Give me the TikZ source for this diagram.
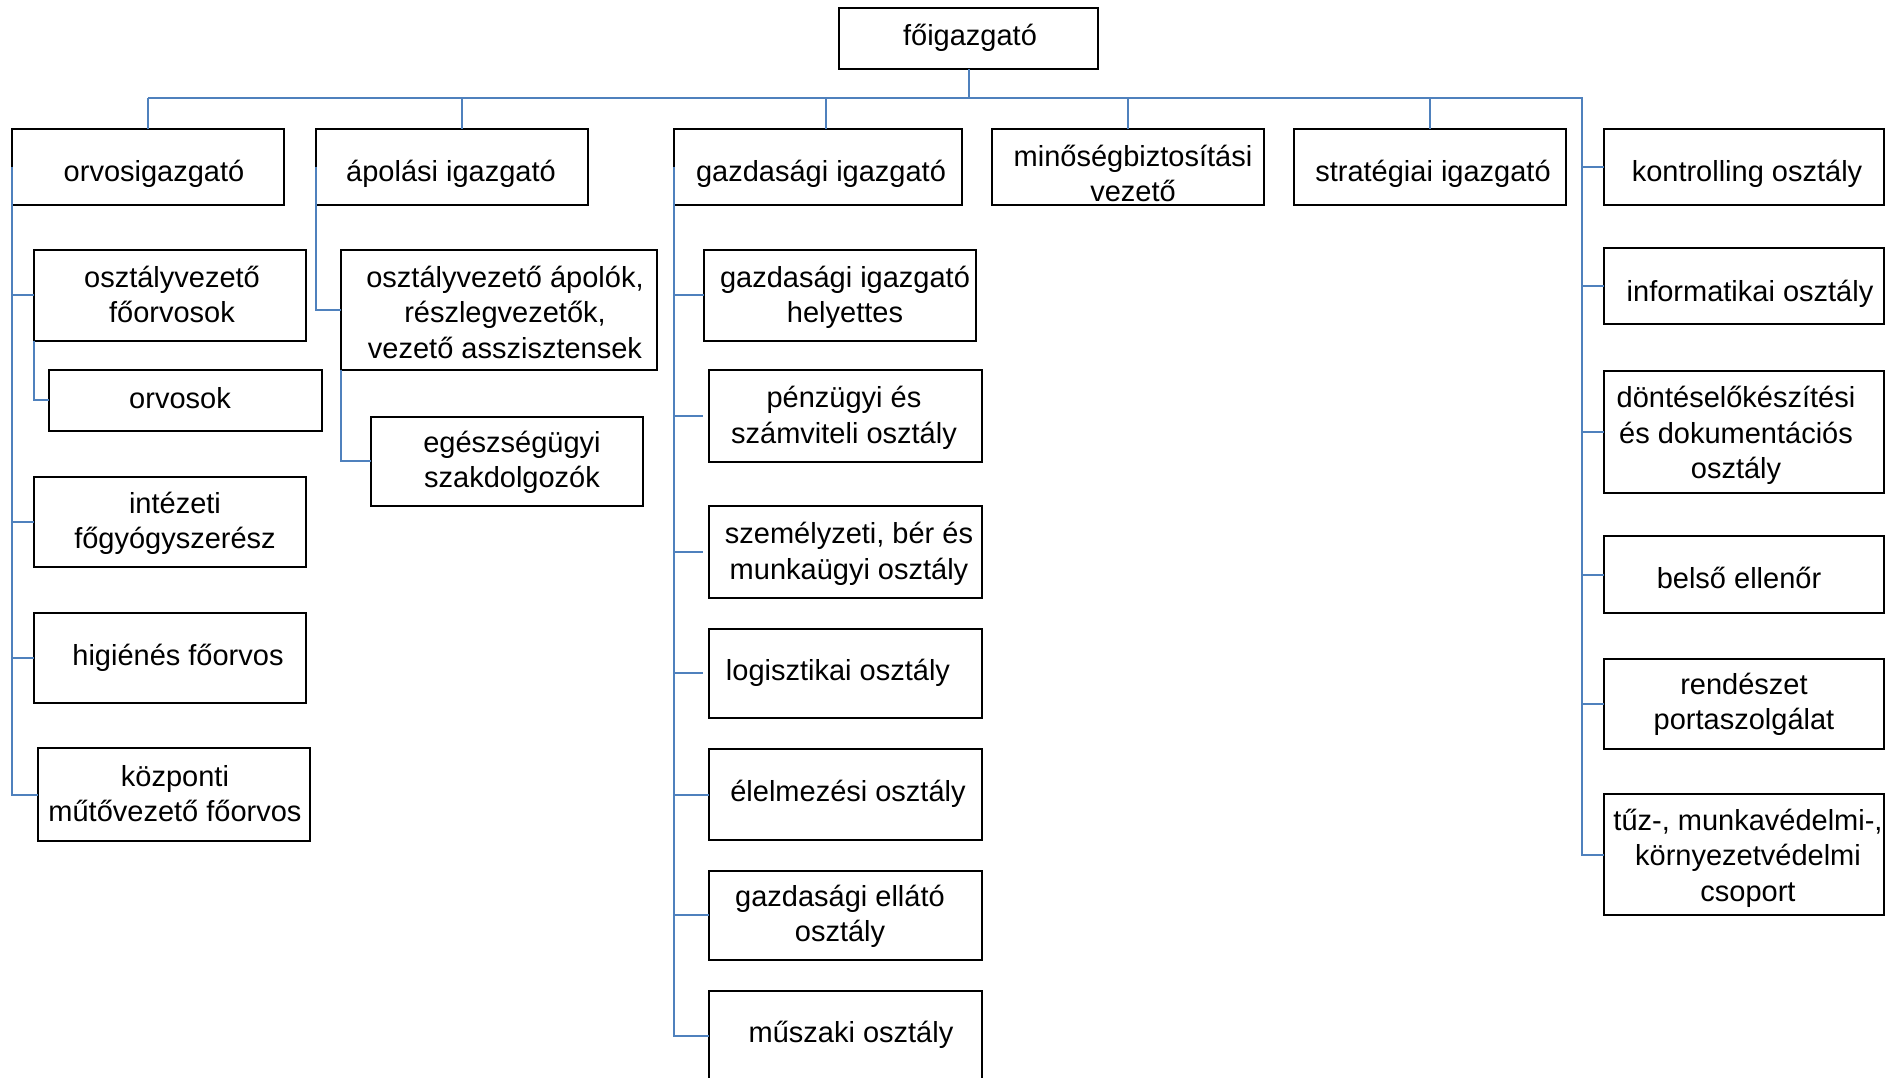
\documentclass[tikz,border=0pt]{standalone}
\usepackage{fontspec}
\setmainfont{Liberation Sans}
\definecolor{connblue}{RGB}{79,129,189}
\tikzset{
  box/.style={draw=black, line width=2pt, rectangle, inner sep=0pt, outer sep=0pt},
  conn/.style={draw=connblue, line width=2pt},
  txt/.style={anchor=base, inner sep=0pt, font=\fontsize{29}{35.5}\selectfont},
}
\newcommand\bx[5]{\node[box, minimum width={#4-#2}, minimum height={#5-#3}] (#1) at ({(#2+#4)/2},{(#3+#5)/2}) {};}
\newcommand\tx[4]{\node[txt] (#1) at (#2,#3) {\begin{tabular}[t]{@{}c@{}}#4\end{tabular}};}
\begin{document}
\begin{tikzpicture}[x=1pt,y=-1pt]
\useasboundingbox (0,0) rectangle (1888,1077);
\clip (0,0) rectangle (1888,1077);
% boxes
\bx{fo}{839}{8}{1098}{69}
\bx{ov}{12}{128.5}{284}{204.5}
\bx{ap}{316}{128.5}{588}{204.5}
\bx{gi}{674}{128.5}{962}{204.5}
\bx{mb}{992}{128.5}{1264}{204.5}
\bx{st}{1294}{128.5}{1566}{204.5}
\bx{ko}{1604}{128.5}{1884}{204.5}
\bx{io}{1604}{248.3}{1884}{324}
\bx{dk}{1604}{370.7}{1884}{492.5}
\bx{be}{1604}{536}{1884}{613}
\bx{re}{1604}{658.6}{1884}{748.6}
\bx{tz}{1604}{794}{1884}{915}
\bx{ofo}{33.5}{250}{305.5}{340.7}
\bx{orv}{49}{370}{321.5}{430.7}
\bx{ig}{33.5}{476.7}{305.5}{566.7}
\bx{hf}{33.5}{612.7}{305.5}{702.7}
\bx{kmf}{37.6}{748.3}{310.2}{840.7}
\bx{oa}{341.2}{250}{657.4}{370}
\bx{esz}{371.4}{416.7}{643}{506}
\bx{gih}{703.5}{250}{975.5}{340.7}
\bx{pz}{709.3}{370}{982}{461.5}
\bx{szm}{709.3}{506.3}{982}{598.1}
\bx{log}{709.3}{628.7}{982}{718}
\bx{ele}{709.3}{749}{982}{840.3}
\bx{gel}{709.3}{870.5}{982}{960}
\bx{msz}{709.3}{990.7}{982}{1082}
% connectors
\coordinate (busL) at (148,98.3);
\coordinate (busR) at (1582,98.3);
\coordinate (apc) at ([xshift=9.6pt]ap.north);
\coordinate (gic) at ([xshift=7.7pt]gi.north);
\draw[conn] (busL) -- (busR) |- (tz.west);
\draw[conn] (fo.south) -- (fo.south |- busL);
\draw[conn] (ov.north) -- (ov.north |- busL);
\draw[conn] (apc) -- (apc |- busL);
\draw[conn] (gic) -- (gic |- busL);
\draw[conn] (mb.north) -- (mb.north |- busL);
\draw[conn] (st.north) -- (st.north |- busL);
\foreach \n in {ko,io,dk,be,re} \draw[conn] (busR |- \n.west) -- (\n.west);
\draw[conn] (ov.west) |- (kmf.west);
\foreach \n in {ofo,ig,hf} \draw[conn] (ov.west |- \n.west) -- (\n.west);
\draw[conn] (ofo.south west) |- (orv.west);
\draw[conn] (ap.west) |- (oa.west);
\draw[conn] (oa.south west) |- (esz.west);
\draw[conn] (gi.west) |- (msz.west);
\foreach \n in {gih,ele,gel} \draw[conn] (gi.west |- \n.west) -- (\n.west);
\foreach \n in {pz,szm,log} \draw[conn, shorten >=6pt] (gi.west |- \n.west) -- (\n.west);
% texts
\tx{t-fo}{970}{45}{főigazgató}
\tx{t-ov}{154}{181}{orvosigazgató}
\tx{t-ap}{451}{181}{ápolási igazgató}
\tx{t-gi}{821}{181}{gazdasági igazgató}
\tx{t-mb}{1133}{166}{minőségbiztosítási\\vezető}
\tx{t-st}{1433}{181}{stratégiai igazgató}
\tx{t-ko}{1747}{181}{kontrolling osztály}
\tx{t-io}{1750}{301.7}{informatikai osztály}
\tx{t-dk}{1736}{407.5}{döntéselőkészítési\\és dokumentációs\\osztály}
\tx{t-be}{1739}{588}{belső ellenőr}
\tx{t-re}{1744}{694}{rendészet\\portaszolgálat}
\tx{t-tz}{1748}{830}{tűz-, munkavédelmi-,\\környezetvédelmi\\csoport}
\tx{t-ofo}{172}{287}{osztályvezető\\főorvosok}
\tx{t-orv}{180}{408}{orvosok}
\tx{t-ig}{175}{513}{intézeti\\főgyógyszerész}
\tx{t-hf}{178}{665}{higiénés főorvos}
\tx{t-kmf}{175}{786}{központi\\műtővezető főorvos}
\tx{t-oa}{505}{287}{osztályvezető ápolók,\\részlegvezetők,\\vezető asszisztensek}
\tx{t-esz}{512}{452}{egészségügyi\\szakdolgozók}
\tx{t-gih}{845}{287}{gazdasági igazgató\\helyettes}
\tx{t-pz}{844}{407.5}{pénzügyi és\\számviteli osztály}
\tx{t-szm}{849}{543.6}{személyzeti, bér és\\munkaügyi osztály}
\tx{t-log}{838}{680}{logisztikai osztály}
\tx{t-ele}{848}{801}{élelmezési osztály}
\tx{t-gel}{840}{906}{gazdasági ellátó\\osztály}
\tx{t-msz}{851}{1042}{műszaki osztály}
\end{tikzpicture}
\end{document}
